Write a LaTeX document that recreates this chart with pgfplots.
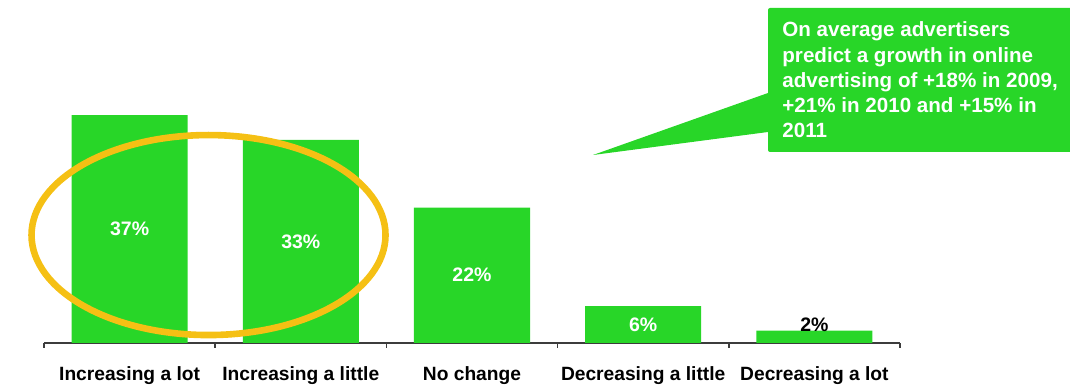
\documentclass[border=0pt]{standalone}
\usepackage{pgfplots}
\pgfplotsset{compat=1.18}
\usepackage{fontspec}
\setmainfont{Liberation Sans}
\definecolor{barg}{RGB}{40,214,40}
\definecolor{ring}{RGB}{245,192,20}
\definecolor{axisc}{RGB}{60,60,60}
\begin{document}
\begin{tikzpicture}
\useasboundingbox (-22pt,-21pt) rectangle (513pt,171.5pt);
\begin{axis}[
  at={(0,0)}, anchor=south west,
  scale only axis, width=428pt, height=171.5pt,
  xmin=-0.5, xmax=4.5, ymin=0, ymax=55.7,
  axis x line=bottom, axis y line=none,
  axis line style={-, draw=axisc, line width=0.8pt},
  xtick={0,1,2,3,4},
  xticklabels={Increasing a lot, Increasing a little, No change, Decreasing a little, Decreasing a lot},
  major tick length=0pt,
  major x tick style={draw=none},
  minor xtick={-0.5,0.5,1.5,2.5,3.5,4.5},
  minor x tick style={draw=axisc, line width=0.8pt},
  minor tick length=2.5pt,
  tick align=outside,
  xticklabel style={font=\fontsize{9.6pt}{11pt}\selectfont\bfseries, anchor=base, yshift=-19pt, inner sep=0pt},
  clip=false,
]
\addplot[ybar, bar width=58pt, fill=barg, draw=none] coordinates {(0,37) (1,33) (2,22) (3,6) (4,2)};
\addplot[draw=none, mark=none, nodes near coords, point meta=explicit symbolic,
  every node near coord/.style={anchor=center, font=\fontsize{9.75pt}{11pt}\selectfont\bfseries, text=white, inner sep=0pt}]
  coordinates {(0,18.5)[37\%] (1,16.5)[33\%] (2,11)[22\%] (3,3)[6\%]};
\addplot[draw=none, mark=none, nodes near coords, point meta=explicit symbolic,
  every node near coord/.style={anchor=center, font=\fontsize{9.75pt}{11pt}\selectfont\bfseries, text=black, inner sep=0pt}]
  coordinates {(4,2.9)[2\%]};
\draw[ring, line width=3.3pt] (axis cs:0.461,17.53) ellipse [x radius=88.5pt, y radius=50pt];
\end{axis}
\fill[barg] (362pt,125pt) -- (274.5pt,94pt) -- (362pt,105.5pt) -- cycle;
\fill[barg, rounded corners=1pt] (362pt,167.5pt) rectangle (530pt,95.5pt);
\begin{scope}[every node/.style={anchor=base west, inner sep=0pt, text=white, font=\fontsize{10.3pt}{12.6pt}\selectfont\bfseries}]
\node at (369pt,153pt) {On average advertisers};
\node at (369pt,140.4pt) {predict a growth in online};
\node at (369pt,127.8pt) {advertising of +18\% in 2009,};
\node at (369pt,115.2pt) {+21\% in 2010 and +15\% in};
\node at (369pt,102.6pt) {2011};
\end{scope}
\end{tikzpicture}
\end{document}
